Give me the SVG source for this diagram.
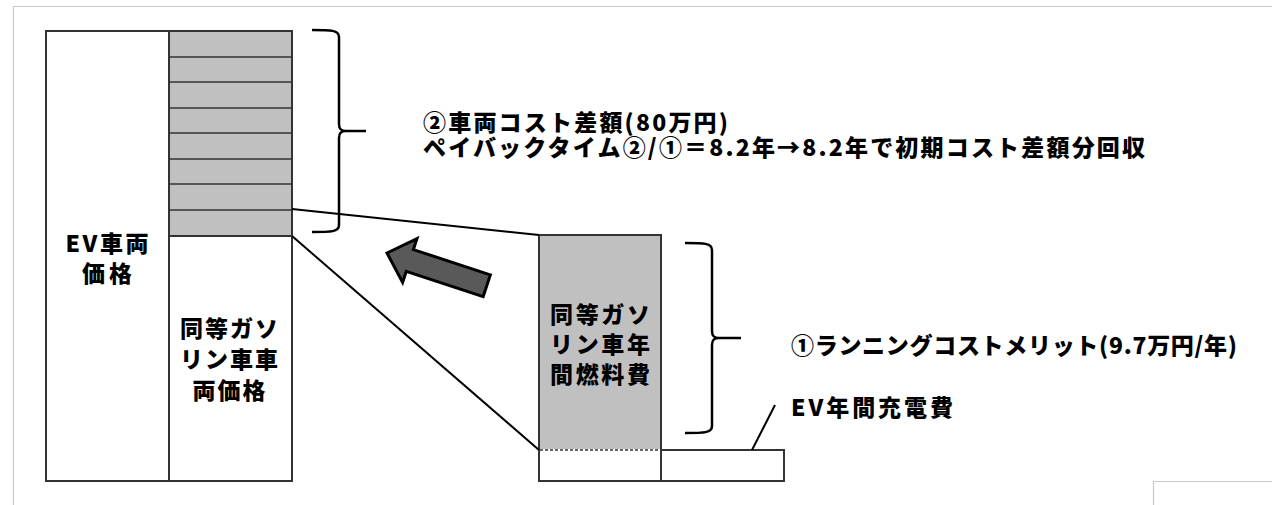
<svg xmlns="http://www.w3.org/2000/svg" width="1272" height="505" viewBox="0 0 1272 505">
  <style>
    .box { stroke: #333; stroke-width: 2; }
    .gray { fill: #c0c0c0; }
    .white { fill: #ffffff; }
    .stripe { stroke: #333; stroke-width: 1.6; }
    .line { stroke: #000; stroke-width: 2; fill: none; }
    .brace { stroke: #000; stroke-width: 2.5; fill: none; stroke-linecap: butt; }
    .frame { stroke: #c8c8c8; stroke-width: 1.2; fill: none; }
    .t { font-family: "Noto Sans CJK JP", "Noto Sans", sans-serif; font-weight: 900; font-size: 23px; fill: #000; }
    .c { text-anchor: middle; }
  </style>
  <rect width="1272" height="505" fill="#ffffff"/>
  <g id="frame">
    <path class="frame" d="M13.5,505 V6.5 H1272"/>
    <path class="frame" d="M1153.5,505 V481.5 H1272"/>
  </g>

  <g id="ev-price">
    <rect class="box white" x="46" y="31" width="123" height="450"/>
    <text class="t c" x="107" y="252" textLength="83" lengthAdjust="spacing">EV車両</text>
    <text class="t c" x="107" y="282" textLength="50" lengthAdjust="spacing">価格</text>
  </g>

  <g id="cost-difference">
    <rect class="box gray" x="169" y="31" width="123" height="205"/>
    <line class="stripe" x1="169" y1="57" x2="292" y2="57"/>
    <line class="stripe" x1="169" y1="82" x2="292" y2="82"/>
    <line class="stripe" x1="169" y1="108" x2="292" y2="108"/>
    <line class="stripe" x1="169" y1="133" x2="292" y2="133"/>
    <line class="stripe" x1="169" y1="159" x2="292" y2="159"/>
    <line class="stripe" x1="169" y1="184" x2="292" y2="184"/>
    <line class="stripe" x1="169" y1="210" x2="292" y2="210"/>
  </g>

  <g id="gas-price">
    <rect class="box white" x="169" y="236" width="123" height="245"/>
    <text class="t c" x="229" y="337" textLength="98" lengthAdjust="spacing">同等ガソ</text>
    <text class="t c" x="229" y="368" textLength="98" lengthAdjust="spacing">リン車車</text>
    <text class="t c" x="229" y="399" textLength="73" lengthAdjust="spacing">両価格</text>
  </g>

  <g id="gas-fuel">
    <rect class="box gray" x="539" y="235" width="122" height="215"/>
    <rect class="box white" x="539" y="450" width="122" height="31"/>
    <line x1="540" y1="450" x2="660" y2="450" stroke="#fff" stroke-width="2"/>
    <line x1="540" y1="450" x2="660" y2="450" stroke="#333" stroke-width="1.5" stroke-dasharray="3 2"/>
    <text class="t c" x="600" y="323" textLength="100" lengthAdjust="spacing">同等ガソ</text>
    <text class="t c" x="600" y="353" textLength="100" lengthAdjust="spacing">リン車年</text>
    <text class="t c" x="600" y="383" textLength="100" lengthAdjust="spacing">間燃料費</text>
  </g>

  <g id="ev-charge">
    <rect class="box white" x="661" y="450" width="123" height="31"/>
  </g>

  <g id="connectors">
    <line class="line" x1="292" y1="209" x2="539" y2="235"/>
    <line class="line" x1="292" y1="236" x2="539" y2="450"/>
    <line class="line" x1="752" y1="450" x2="775" y2="405"/>
    <polygon transform="translate(387,253) rotate(18.2)" points="0,0 24,-23 24,-11.5 105,-11.5 105,11.5 24,11.5 24,23" fill="#595959" stroke="#000" stroke-width="3" stroke-linejoin="miter"/>
  </g>

  <g id="brace-cost">
    <path class="brace" d="M312,30 C331,30 339,30 339,37 V124 C339,129 341,131 346,131 H366 M346,131 C341,131 339,133 339,138 V225 C339,232 331,232 312,232"/>
    <text class="t" x="423" y="131" textLength="305" lengthAdjust="spacing">②車両コスト差額(80万円)</text>
    <text class="t" x="423" y="156" textLength="722" lengthAdjust="spacing">ペイバックタイム②/①＝8.2年→8.2年で初期コスト差額分回収</text>
  </g>

  <g id="brace-running">
    <path class="brace" d="M685,243 C704,243 712,243 712,250 V331 C712,336 714,338 719,338 H741 M719,338 C714,338 712,340 712,345 V426 C712,433 704,433 685,433"/>
    <text class="t" x="791" y="354" textLength="446" lengthAdjust="spacing">①ランニングコストメリット(9.7万円/年)</text>
  </g>

  <g id="ev-charge-label">
    <text class="t" x="791" y="416" textLength="162" lengthAdjust="spacing">EV年間充電費</text>
  </g>
</svg>
